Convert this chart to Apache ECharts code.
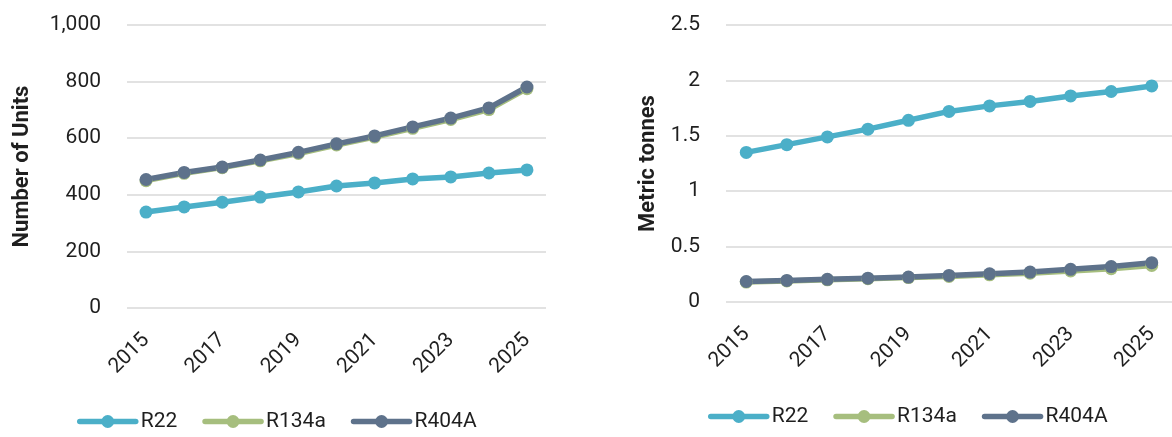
<!DOCTYPE html>
<html>
<head>
<meta charset="utf-8">
<script src="https://cdn.jsdelivr.net/npm/echarts@6/dist/echarts.min.js"></script>
<style>
  html, body { margin: 0; padding: 0; background: #fff; }
  #chart { width: 1172px; height: 437px; }
</style>
</head>
<body>
<div id="chart"></div>
<script>
// Refrigerant trends 2015–2025
const years = ['2015','2016','2017','2018','2019','2020','2021','2022','2023','2024','2025'];
const seriesNames = ['R22', 'R134a', 'R404A'];

// Number of units
const unitsR22   = [339, 357, 374, 392, 410, 431, 442, 456, 463, 477, 488];
const unitsR134a = [450, 476, 496, 520, 546, 576, 604, 635, 666, 701, 775];
const unitsR404A = [454, 479, 498, 523, 550, 580, 608, 640, 671, 707, 781];

// Metric tonnes
const tonnesR22   = [1.35, 1.42, 1.49, 1.56, 1.64, 1.72, 1.77, 1.81, 1.86, 1.90, 1.95];
const tonnesR134a = [0.18, 0.19, 0.20, 0.21, 0.22, 0.23, 0.245, 0.26, 0.28, 0.30, 0.33];
const tonnesR404A = [0.185, 0.195, 0.205, 0.215, 0.225, 0.24, 0.255, 0.27, 0.295, 0.32, 0.355];

const colors = { R22: '#4BAFC8', R134a: '#A6BE7E', R404A: '#5E728B' };
const FONT = 'Roboto';
const TEXT = '#1f1f1f';

function lineSeries(name, data, idx) {
  return {
    name: name,
    type: 'line',
    xAxisIndex: idx,
    yAxisIndex: idx,
    data: data,
    symbol: 'circle',
    symbolSize: 13,
    showSymbol: true,
    lineStyle: { width: 5.5, color: colors[name] },
    itemStyle: { color: colors[name] },
    emphasis: { disabled: true },
    animation: false
  };
}

function xAxis(idx) {
  return {
    type: 'category',
    gridIndex: idx,
    data: years,
    boundaryGap: true,
    axisLine: { show: false },
    axisTick: { show: false },
    axisLabel: {
      interval: 1,
      rotate: 45,
      margin: 29,
      fontFamily: FONT,
      fontSize: 21,
      color: TEXT
    }
  };
}

function yAxis(idx, opts) {
  return Object.assign({
    type: 'value',
    gridIndex: idx,
    axisLine: { show: false },
    axisTick: { show: false },
    splitLine: { lineStyle: { color: '#d9d9d9', width: 1.5 } },
    nameLocation: 'middle',
    nameTextStyle: { fontFamily: FONT, fontSize: 22, fontWeight: 'bold', color: TEXT },
    axisLabel: { margin: 26, fontFamily: FONT, fontSize: 21, color: TEXT }
  }, opts);
}

function legend(left, top) {
  return {
    data: seriesNames,
    left: left,
    top: top,
    padding: 0,
    itemWidth: 56,
    itemHeight: 16,
    itemGap: 25,
    selectedMode: false,
    lineStyle: { width: 5.5, cap: 'round' },
    textStyle: { fontFamily: FONT, fontSize: 21, color: TEXT }
  };
}

const chart = echarts.init(document.getElementById('chart'), null, { renderer: 'canvas' });
chart.setOption({
  animation: false,
  backgroundColor: '#ffffff',
  grid: [
    { left: 127, right: 626, top: 25, bottom: 129 },
    { left: 726, right: 0, top: 25, bottom: 135 }
  ],
  legend: [legend(77, 411), legend(708, 406)],
  xAxis: [xAxis(0), xAxis(1)],
  yAxis: [
    yAxis(0, {
      min: 0, max: 1000, interval: 200,
      name: 'Number of Units', nameGap: 94,
      axisLabel: {
        margin: 26, fontFamily: FONT, fontSize: 21, color: TEXT,
        formatter: v => v.toLocaleString('en-US')
      }
    }),
    yAxis(1, {
      min: 0, max: 2.5, interval: 0.5,
      name: 'Metric tonnes', nameGap: 67
    })
  ],
  series: [
    lineSeries('R22', unitsR22, 0),
    lineSeries('R134a', unitsR134a, 0),
    lineSeries('R404A', unitsR404A, 0),
    lineSeries('R22', tonnesR22, 1),
    lineSeries('R134a', tonnesR134a, 1),
    lineSeries('R404A', tonnesR404A, 1)
  ]
});
</script>
</body>
</html>
